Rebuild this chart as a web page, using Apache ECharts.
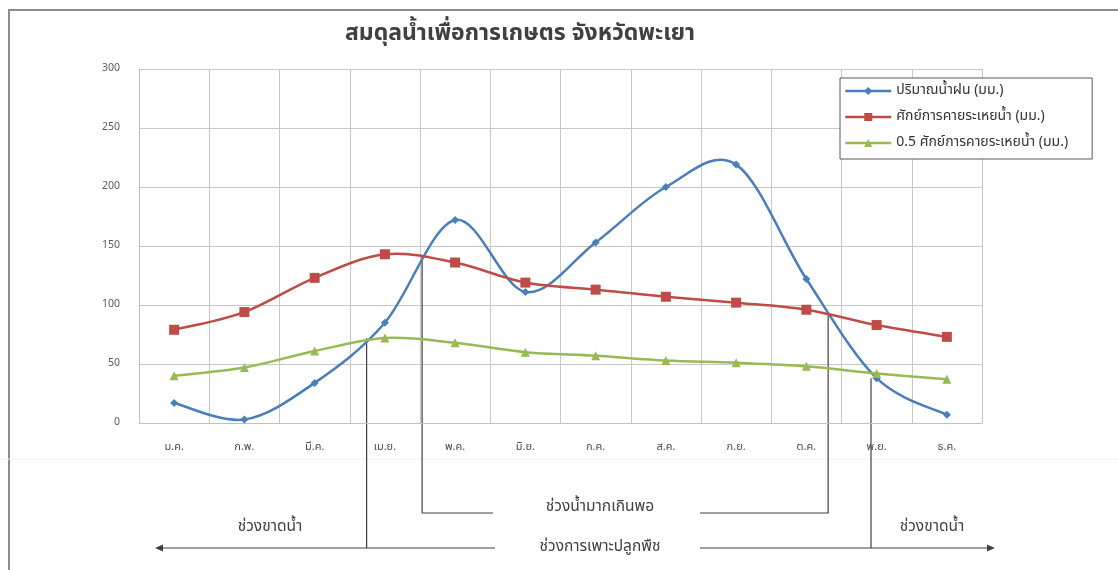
<!DOCTYPE html>
<html>
<head>
<meta charset="utf-8">
<script src="https://cdn.jsdelivr.net/npm/echarts@6/dist/echarts.min.js"></script>
<style>
html,body{margin:0;padding:0;background:#fff;}
#c{width:1118px;height:570px;}
</style>
</head>
<body>
<div id="c"></div>
<script>
const months = ['ม.ค.','ก.พ.','มี.ค.','เม.ย.','พ.ค.','มิ.ย.','ก.ค.','ส.ค.','ก.ย.','ต.ค.','พ.ย.','ธ.ค.'];
const rain = [17, 3, 34, 85, 172, 111, 153, 200, 219, 122, 38, 7];
const et = [79, 94, 123, 143, 136, 119, 113, 107, 102, 96, 83, 73];
const etHalf = [40, 47, 61, 72, 68, 60, 57, 53, 51, 48, 42, 37];
const yTicks = [0, 50, 100, 150, 200, 250, 300];
const names = ['ปริมาณน้ำฝน (มม.)', 'ศักย์การคายระเหยน้ำ (มม.)', '0.5 ศักย์การคายระเหยน้ำ (มม.)'];
const title = 'สมดุลน้ำเพื่อการเกษตร จังหวัดพะเยา';
// annotation crossing points (fractional month index, value)
const crossLeftDry = [2.74, 72];
const crossWetStart = [3.53, 142];
const crossWetEnd = [9.31, 93];
const crossRightDry = [9.92, 38];
const labelWet = 'ช่วงน้ำมากเกินพอ';
const labelDry = 'ช่วงขาดน้ำ';
const labelCrop = 'ช่วงการเพาะปลูกพืช';

const colors = ['#4a7ebb', '#be4b48', '#98b954'];
const FONT = "'Noto Sans Thai', Tahoma, 'Noto Sans', 'DejaVu Sans', sans-serif";
const chart = echarts.init(document.getElementById('c'), null, {renderer: 'canvas'});

// Excel-like smoothed curve (Catmull-Rom style Bezier) through the library's coordinate system
function smoothSeries(name, values, color) {
  return {
    name: name + ' curve', type: 'custom', z: 2, silent: true,
    data: values.map((v, i) => [i, v]),
    renderItem: function (params, api) {
      const i = params.dataIndex;
      const n = values.length;
      if (i >= n - 1) return null;
      const P = k => { const j = Math.max(0, Math.min(n - 1, k)); return api.coord([j, values[j]]); };
      const p0 = P(i - 1), p1 = P(i), p2 = P(i + 1), p3 = P(i + 2);
      return {
        type: 'bezierCurve',
        shape: {
          x1: p1[0], y1: p1[1], x2: p2[0], y2: p2[1],
          cpx1: p1[0] + (p2[0] - p0[0]) / 6, cpy1: p1[1] + (p2[1] - p0[1]) / 6,
          cpx2: p2[0] - (p3[0] - p1[0]) / 6, cpy2: p2[1] - (p3[1] - p1[1]) / 6
        },
        style: {stroke: color, lineWidth: 2.5, fill: null, lineCap: 'round'}
      };
    }
  };
}
function markerSeries(name, values, color, symbol, size) {
  return {
    name: name, type: 'line', data: values, z: 3,
    symbol: symbol, symbolSize: size, showSymbol: true,
    lineStyle: {color: color, width: 2.5, opacity: 0},
    itemStyle: {color: color}
  };
}

chart.setOption({
  backgroundColor: '#fff',
  animation: false,
  textStyle: {fontFamily: FONT},
  title: {
    text: title, left: 515, top: 19, textAlign: 'center',
    textStyle: {fontSize: 23, fontWeight: 'bold', color: '#404040', fontFamily: FONT}
  },
  legend: {
    orient: 'vertical', left: 840, top: 78,
    backgroundColor: '#fff', borderColor: '#595959', borderWidth: 1,
    padding: [6, 24, 9, 4], itemGap: 12, itemWidth: 46, itemHeight: 10,
    textStyle: {fontSize: 14, color: '#333', fontFamily: FONT},
    data: names.map((n, k) => ({name: n, lineStyle: {color: colors[k], width: 2.5, opacity: 1}}))
  },
  grid: {left: 139, right: 136, top: 69, bottom: 147},
  xAxis: {
    type: 'category', data: months, boundaryGap: true,
    axisLine: {show: true, lineStyle: {color: '#bfbfbf', width: 1}},
    axisTick: {show: false},
    axisLabel: {fontSize: 11, color: '#4d4d4d', margin: 19, interval: 0},
    splitLine: {show: true, interval: 0, lineStyle: {color: '#c8c8c8', width: 1}}
  },
  yAxis: {
    type: 'value', min: 0, max: 300, interval: 50,
    axisLine: {show: true, lineStyle: {color: '#bfbfbf'}},
    axisTick: {show: false},
    axisLabel: {fontSize: 10.5, color: '#595959', margin: 19},
    splitLine: {show: true, lineStyle: {color: '#c8c8c8', width: 1}}
  },
  series: [
    smoothSeries(names[0], rain, colors[0]),
    smoothSeries(names[1], et, colors[1]),
    smoothSeries(names[2], etHalf, colors[2]),
    markerSeries(names[0], rain, colors[0], 'diamond', 8),
    markerSeries(names[1], et, colors[1], 'rect', 10),
    markerSeries(names[2], etHalf, colors[2], 'triangle', 9)
  ]
});

function px(pt) {
  const i0 = Math.floor(pt[0]), f = pt[0] - i0;
  const x0 = chart.convertToPixel({xAxisIndex: 0}, i0);
  const x1 = chart.convertToPixel({xAxisIndex: 0}, i0 + 1);
  return [x0 + f * (x1 - x0), chart.convertToPixel({yAxisIndex: 0}, pt[1])];
}
const a = px(crossLeftDry), b = px(crossWetStart), c = px(crossWetEnd), d = px(crossRightDry);
const yWet = 513, yCrop = 548, yDry = 528;
const lineStyle = {stroke: '#404040', lineWidth: 1.2};
const txt = (x, y, t) => ({type: 'text', x: x, y: y, style: {text: t, fill: '#404040', font: '15.5px ' + FONT, align: 'center', verticalAlign: 'middle'}});
chart.setOption({
  graphic: [
    {type: 'rect', shape: {x: 9, y: 10, width: 1120, height: 580}, style: {fill: null, stroke: '#8c8c8c', lineWidth: 2}, silent: true},
    {type: 'line', shape: {x1: 0, y1: 459, x2: 1118, y2: 459}, style: {stroke: '#f0f0f0', lineWidth: 1}},
    {type: 'polyline', shape: {points: [[a[0], a[1]], [a[0], yCrop]]}, style: lineStyle},
    {type: 'polyline', shape: {points: [[d[0], d[1]], [d[0], yCrop]]}, style: lineStyle},
    {type: 'polyline', shape: {points: [[b[0], b[1]], [b[0], yWet], [493, yWet]]}, style: lineStyle},
    {type: 'polyline', shape: {points: [[700, yWet], [c[0], yWet], [c[0], c[1]]]}, style: lineStyle},
    {type: 'line', shape: {x1: 157, y1: yCrop, x2: 495, y2: yCrop}, style: lineStyle},
    {type: 'line', shape: {x1: 700, y1: yCrop, x2: 990, y2: yCrop}, style: lineStyle},
    {type: 'polygon', shape: {points: [[155, yCrop], [163, yCrop - 3.5], [163, yCrop + 3.5]]}, style: {fill: '#404040'}},
    {type: 'polygon', shape: {points: [[995, yCrop], [987, yCrop - 3.5], [987, yCrop + 3.5]]}, style: {fill: '#404040'}},
    txt(600, yWet - 5, labelWet),
    txt(600, yCrop, labelCrop),
    txt(270, yDry, labelDry),
    txt(932, yDry, labelDry)
  ]
});
</script>
</body>
</html>
